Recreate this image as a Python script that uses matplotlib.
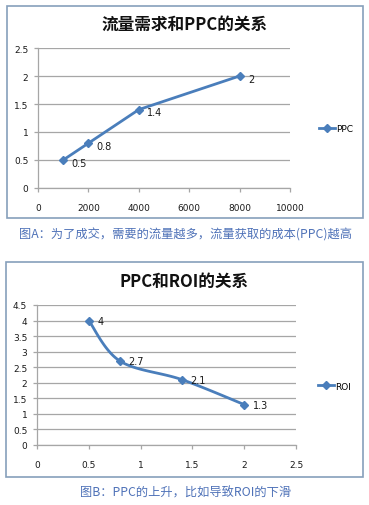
import numpy as np
import matplotlib
matplotlib.use("Agg")
import matplotlib.pyplot as plt
from matplotlib.patches import Rectangle

plt.rcParams["font.family"] = ["DejaVu Sans", "Noto Sans CJK SC"]

# chart A: traffic demand vs PPC
traffic = [1000, 2000, 4000, 8000]
ppc_a = [0.5, 0.8, 1.4, 2.0]
labels_a = ["0.5", "0.8", "1.4", "2"]

# chart B: PPC vs ROI
ppc_b = [0.5, 0.8, 1.4, 2.0]
roi = [4.0, 2.7, 2.1, 1.3]
labels_b = ["4", "2.7", "2.1", "1.3"]

LINE = "#4a7ebb"
GRID = "#a6a6a6"
BORDER = "#86a0bb"
CAPTION = "#4f72b8"
CJK = ["Noto Sans CJK SC", "DejaVu Sans"]

W, H = 369, 506
fig = plt.figure(figsize=(W / 100, H / 100), dpi=100)


def px_axes(left, top, right, bottom):
    return fig.add_axes([left / W, 1 - bottom / H, (right - left) / W, (bottom - top) / H])


def border(left, top, right, bottom):
    fig.patches.append(Rectangle((left / W, 1 - bottom / H), (right - left) / W, (bottom - top) / H,
                                 transform=fig.transFigure, fill=False, edgecolor=BORDER, linewidth=1.2))


def style(ax):
    for side in ["top", "right"]:
        ax.spines[side].set_visible(False)
    for side in ["left", "bottom"]:
        ax.spines[side].set_color(GRID)
        ax.spines[side].set_linewidth(0.9)
    ax.yaxis.grid(True, color=GRID, linewidth=0.9)
    ax.set_axisbelow(True)
    ax.tick_params(axis="both", colors=GRID, labelcolor="#1a1a1a", labelsize=6.5, length=3, width=0.9)
    ax.tick_params(axis="x", pad=8)
    ax.tick_params(axis="y", pad=4)


def smooth(xs, ys, xr, yr, n=30):
    # Catmull-Rom through the points, computed in axis-fraction space
    px = (np.asarray(xs) - xr[0]) / (xr[1] - xr[0])
    py = (np.asarray(ys) - yr[0]) / (yr[1] - yr[0])
    pts = np.column_stack([px, py])
    pts = np.vstack([pts[0], pts, pts[-1]])
    out = []
    for i in range(1, len(pts) - 2):
        p0, p1, p2, p3 = pts[i - 1], pts[i], pts[i + 1], pts[i + 2]
        t = np.linspace(0, 1, n)[:, None]
        seg = 0.5 * ((2 * p1) + (-p0 + p2) * t + (2 * p0 - 5 * p1 + 4 * p2 - p3) * t ** 2
                     + (-p0 + 3 * p1 - 3 * p2 + p3) * t ** 3)
        out.append(seg)
    out = np.vstack(out)
    return out[:, 0] * (xr[1] - xr[0]) + xr[0], out[:, 1] * (yr[1] - yr[0]) + yr[0]


# ---- chart A ----
border(7, 7, 363, 219)
ax1 = px_axes(38, 49, 290, 189)
style(ax1)
ax1.plot(traffic, ppc_a, color=LINE, linewidth=2, marker="D", markersize=4.5, label="PPC", clip_on=False)
for x, y, s in zip(traffic, ppc_a, labels_a):
    ax1.annotate(s, (x, y), xytext=(6, -2), textcoords="offset points", fontsize=7, va="center", color="#1a1a1a")
ax1.set_xlim(0, 10000)
ax1.set_ylim(0, 2.5)
ax1.set_xticks([0, 2000, 4000, 6000, 8000, 10000])
ax1.set_yticks([0, 0.5, 1, 1.5, 2, 2.5])
ax1.set_yticklabels(["0", "0.5", "1", "1.5", "2", "2.5"])
fig.text(185 / W, 1 - 25 / H, "流量需求和PPC的关系", family=CJK, fontsize=12, fontweight="bold",
         ha="center", va="center", color="#111111")
fig.legend(*ax1.get_legend_handles_labels(), loc="center left", bbox_to_anchor=(314 / W, 1 - 130 / H),
           frameon=False, fontsize=6.5, handlelength=1.8, handletextpad=0.2, borderpad=0)
fig.text(186 / W, 1 - 235 / H, "图A：为了成交，需要的流量越多，流量获取的成本(PPC)越高", family=CJK,
         fontsize=8.8, ha="center", va="center", color=CAPTION)

# ---- chart B ----
border(6, 263, 363, 478)
ax2 = px_axes(37, 306, 296, 446)
style(ax2)
sx, sy = smooth(ppc_b, roi, (0, 2.5), (0, 4.5))
ax2.plot(sx, sy, color=LINE, linewidth=2, label="_nolegend_")
ax2.plot(ppc_b, roi, color=LINE, linewidth=2, marker="D", markersize=4.5, linestyle="none")
ax2.plot([], [], color=LINE, linewidth=2, marker="D", markersize=4.5, label="ROI")
for x, y, s in zip(ppc_b, roi, labels_b):
    ax2.annotate(s, (x, y), xytext=(6, 0), textcoords="offset points", fontsize=7, va="center", color="#1a1a1a")
ax2.set_xlim(0, 2.5)
ax2.set_ylim(0, 4.5)
ax2.set_xticks([0, 0.5, 1, 1.5, 2, 2.5])
ax2.set_xticklabels(["0", "0.5", "1", "1.5", "2", "2.5"])
ax2.set_yticks(np.arange(0, 4.6, 0.5))
ax2.set_yticklabels(["0", "0.5", "1", "1.5", "2", "2.5", "3", "3.5", "4", "4.5"])
fig.text(184 / W, 1 - 282 / H, "PPC和ROI的关系", family=CJK, fontsize=12, fontweight="bold",
         ha="center", va="center", color="#111111")
fig.legend(*ax2.get_legend_handles_labels(), loc="center left", bbox_to_anchor=(313 / W, 1 - 387 / H),
           frameon=False, fontsize=6.5, handlelength=1.8, handletextpad=0.2, borderpad=0)
fig.text(186 / W, 1 - 493 / H, "图B：PPC的上升，比如导致ROI的下滑", family=CJK,
         fontsize=8.8, ha="center", va="center", color=CAPTION)

fig.savefig("out.png", dpi=100, facecolor="white")
